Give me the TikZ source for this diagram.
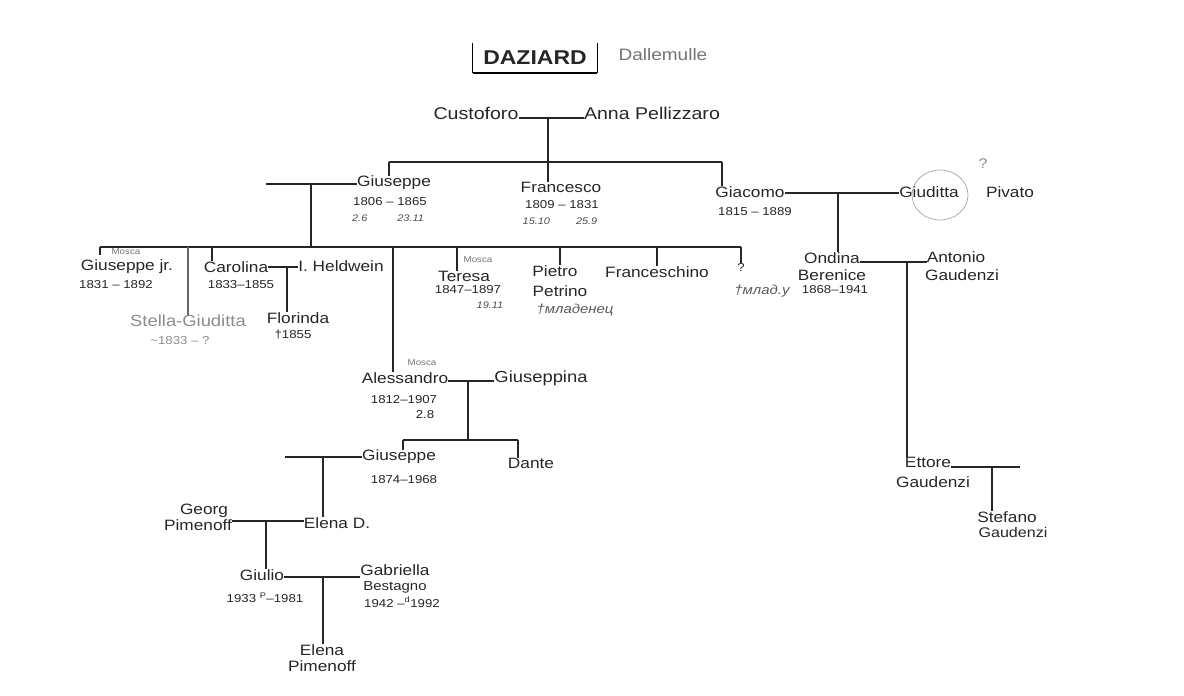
\documentclass[tikz,border=0pt]{standalone}
\usepackage{fontspec}
\setmainfont{Liberation Sans}[FakeStretch=1.15]
\usetikzlibrary{shapes.geometric}
\begin{document}
\begin{tikzpicture}[x=1pt,y=-1pt,
  every node/.style={inner sep=0pt, text=black!85},
  nm/.style={font=\fontsize{15}{15}\selectfont},
  big/.style={font=\fontsize{17}{17}\selectfont},
  dt/.style={font=\fontsize{11.5}{12}\selectfont},
  sm/.style={font=\fontsize{9.5}{10}\selectfont\itshape, text=black!70},
  note/.style={font=\fontsize{8.5}{9}\selectfont, text=black!55},
  pale/.style={font=\fontsize{16}{16}\selectfont, text=black!45},
  ln/.style={line width=1.1pt, draw=black!85},
  thin/.style={line width=0.6pt, draw=black!40}]
\useasboundingbox (0,0) rectangle (1184,696);
% title
\node[font=\fontsize{20}{20}\selectfont\bfseries, minimum width=124pt, minimum height=30pt] (daz) at (535,58) {DAZIARD};
\draw[line width=1.3pt] (daz.north west) -- (daz.south west);
\draw[line width=1.3pt] (daz.north east) -- (daz.south east);
\draw[line width=2.4pt] (daz.south west) -- (daz.south east);
\node[pale, font=\fontsize{16.5}{17}\selectfont, text=black!55] (dal) at (663,55) {Dallemulle};
% generation 0
\node[big] (cus) at (476,113) {Custoforo};
\node[big] (anna) at (652,113) {Anna Pellizzaro};
\coordinate (m1) at (548,118);
\draw[ln] (cus.east |- m1) -- (anna.west |- m1);
\coordinate (g1l) at (389,162);
\coordinate (g1r) at (722,162);
\draw[ln] (m1) -- (m1 |- g1l);
\draw[ln] (g1l) -- (g1r);
% generation 1
\node[nm] (gius) at (394,183) {Giuseppe};
\node[dt] (gius1) at (390,202) {1806 – 1865};
\node[sm] (gius2) at (388,218) {2.6\hspace{30pt}23.11};
\node[nm] (fran) at (561,187) {Francesco};
\node[dt] (fran1) at (562,205) {1809 – 1831};
\node[sm] (fran2) at (560,221) {15.10\hspace{26pt}25.9};
\node[nm] (gia) at (750,192) {Giacomo};
\node[dt] (gia1) at (755,212) {1815 – 1889};
\node[nm] (giu) at (929,192) {Giuditta};
\node[nm] (piv) at (1010,192) {Pivato};
\node[thin, draw, ellipse, minimum width=56pt, minimum height=50pt] (circ) at (940,195) {};
\node[pale, font=\fontsize{14}{14}\selectfont] (qm) at (983,164) {?};
\draw[ln] (g1l) -- (g1l |- gius.north);
\draw[ln] (m1 |- g1l) -- (m1 |- fran.north);
\draw[ln] (g1r) -- (g1r |- gia.north);
% Giuseppe's marriage
\coordinate (gw) at (266,184);
\coordinate (m2) at (311,184);
\draw[ln] (gw) -- (gius.west |- gw);
\coordinate (c2l) at (100,247);
\coordinate (c2r) at (741,247);
\draw[ln] (m2) -- (m2 |- c2l);
\draw[ln] (c2l) -- (c2r);
% Giacomo's marriage
\coordinate (m3) at (838,193);
\draw[ln] (gia.east |- m3) -- (giu.west |- m3);
% generation 2
\node[note] (mos1) at (126,252) {Mosca};
\node[nm] (gj) at (127,267) {Giuseppe jr.};
\node[dt] (gj1) at (116,285) {1831 – 1892};
\node[nm] (car) at (236,267) {Carolina};
\node[dt] (car1) at (241,285) {1833–1855};
\node[nm] (hel) at (341,266) {I. Heldwein};
\node[nm] (flo) at (298,318) {Florinda};
\node[dt] (flo1) at (293,335) {†1855};
\node[pale] (ste) at (188,321) {Stella-Giuditta};
\node[dt, text=black!45] (ste1) at (180,341) {\textasciitilde1833 – ?};
\node[note] (mos2) at (478,260) {Mosca};
\node[nm] (ter) at (464,276) {Teresa};
\node[dt] (ter1) at (468,290) {1847–1897};
\node[sm] (ter2) at (490,305) {19.11};
\node[nm] (pie) at (555,271) {Pietro};
\node[nm] (pet) at (560,291) {Petrino};
\node[nm, font=\fontsize{13}{13}\selectfont\itshape, text=black!65] (pie2) at (575,310) {†младенец};
\node[nm] (fcs) at (657,272) {Franceschino};
\node[dt] (q) at (741,267) {?};
\node[nm, font=\fontsize{13}{13}\selectfont\itshape, text=black!65] (q2) at (762,291) {†млад.у};
\node[nm] (ond) at (832,258) {Ondina};
\node[nm] (ber) at (832,275) {Berenice};
\node[dt] (ond1) at (835,290) {1868–1941};
\node[nm] (ant) at (956,257) {Antonio};
\node[nm] (gau) at (962,275) {Gaudenzi};
\draw[ln] (m3) -- (m3 |- ond.north);
\coordinate (t1) at (188,247);
\coordinate (t2) at (212,247);
\coordinate (t3) at (393,247);
\coordinate (t4) at (457,247);
\coordinate (t5) at (560,247);
\coordinate (t6) at (657,247);
\draw[ln] (c2l) -- (c2l |- mos1.south);
\draw[ln, draw=black!60] (t1) -- (t1 |- ste.north);
\draw[ln] (t2) -- (t2 |- car.north);
\draw[ln] (t4) -- (t4 |- ter.north);
\draw[ln] (t5) -- (t5 |- pie.north);
\draw[ln] (t6) -- (t6 |- fcs.north);
\draw[ln] (c2r) -- (c2r |- q.north);
\coordinate (m4) at (287,267);
\draw[ln] (car.east |- m4) -- (hel.west |- m4);
\draw[ln] (m4) -- (m4 |- flo.north);
\coordinate (m5) at (907,262);
\draw[ln] (ond.east |- m5) -- (ant.west |- m5);
% generation 3
\node[note] (mos3) at (422,363) {Mosca};
\node[nm] (ales) at (405,378) {Alessandro};
\node[dt] (ales1) at (404,400) {1812–1907};
\node[dt] (ales2) at (425,415) {2.8};
\node[nm, font=\fontsize{16}{16}\selectfont] (gpa) at (541,378) {Giuseppina};
\draw[ln] (t3) -- (t3 |- ales.north);
\coordinate (m6) at (468,381);
\draw[ln] (ales.east |- m6) -- (gpa.west |- m6);
\coordinate (c3l) at (403,440);
\coordinate (c3r) at (518,440);
\draw[ln] (m6) -- (m6 |- c3l);
\draw[ln] (c3l) -- (c3r);
\node[nm] (g2) at (399,457) {Giuseppe};
\node[dt] (g21) at (404,480) {1874–1968};
\node[nm] (dan) at (531,463) {Dante};
\draw[ln] (c3l) -- (c3l |- g2.north);
\draw[ln] (c3r) -- (c3r |- dan.north);
\coordinate (g2w) at (285,457);
\coordinate (m7) at (323,457);
\draw[ln] (g2w) -- (g2.west |- g2w);
% generation 4
\node[nm] (ele) at (337,523) {Elena D.};
\node[nm] (geo) at (204,511) {Georg};
\node[nm] (pim) at (198,525) {Pimenoff};
\draw[ln] (m7) -- (m7 |- ele.north);
\coordinate (m8) at (266,521);
\draw[ln] (pim.east |- m8) -- (ele.west |- m8);
\node[nm] (gio) at (262,575) {Giulio};
\node[dt] (gio1) at (265,598) {1933 \textsuperscript{P}–1981};
\node[nm] (gab) at (395,570) {Gabriella};
\node[dt, font=\fontsize{13}{13}\selectfont] (bes) at (395,587) {Bestagno};
\node[dt] (gab1) at (402,602) {1942 –\textsuperscript{d}1992};
\draw[ln] (m8) -- (m8 |- gio.north);
\coordinate (m9) at (323,577);
\draw[ln] (gio.east |- m9) -- (gab.west |- m9);
\node[nm] (el2) at (322,650) {Elena};
\node[nm] (el2b) at (322,666) {Pimenoff};
\draw[ln] (m9) -- (m9 |- el2.north);
% Gaudenzi branch
\node[nm] (ett) at (928,462) {Ettore};
\node[nm] (ettg) at (933,482) {Gaudenzi};
\draw[ln] (m5) -- (m5 |- ett.north);
\coordinate (m10) at (992,467);
\coordinate (ettw) at (1020,467);
\draw[ln] (ett.east |- m10) -- (ettw);
\node[nm] (stf) at (1007,517) {Stefano};
\node[nm, font=\fontsize{14}{14}\selectfont] (stfg) at (1013,532) {Gaudenzi};
\draw[ln] (m10) -- (m10 |- stf.north);
\end{tikzpicture}
\end{document}
